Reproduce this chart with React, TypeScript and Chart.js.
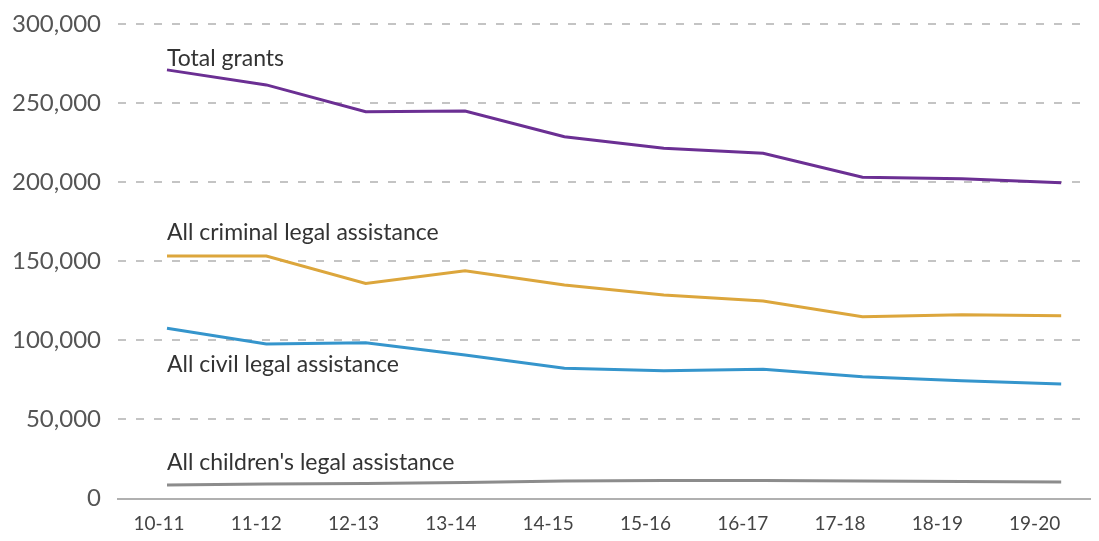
import React, { useEffect, useRef } from "react";
import { Chart, registerables } from "chart.js";

Chart.register(...registerables);

const categories = ["10-11", "11-12", "12-13", "13-14", "14-15", "15-16", "16-17", "17-18", "18-19", "19-20"];
const totalGrants = [271000, 261500, 244500, 245000, 228700, 221400, 218300, 203100, 202200, 199700];
const criminal = [153300, 153300, 136000, 144000, 135000, 128700, 124900, 114900, 116200, 115600];
const civil = [107600, 97700, 98500, 90700, 82300, 80800, 81700, 77000, 74500, 72400];
const children = [8500, 9200, 9500, 10100, 11100, 11400, 11400, 11100, 10700, 10400];
const seriesNames = ["Total grants", "All criminal legal assistance", "All civil legal assistance", "All children's legal assistance"];
const yTicks = [0, 50000, 100000, 150000, 200000, 250000, 300000];

const FONT = "Lato, 'Open Sans', sans-serif";

export default function App() {
  const ref = useRef<HTMLCanvasElement>(null);
  useEffect(() => {
    if (!ref.current) return;
    const seriesData = [totalGrants, criminal, civil, children];
    const colors = ["#6b2f93", "#dca63c", "#3595cc", "#8c8c8c"];
    const labelOffsets = [-11, -23, 36, -22];

    const labelPlugin = {
      id: "lineLabels",
      afterDatasetsDraw(chart: any) {
        const { ctx, scales } = chart;
        ctx.save();
        ctx.font = `23px ${FONT}`;
        ctx.fillStyle = "#333";
        ctx.textAlign = "left";
        ctx.textBaseline = "middle";
        seriesNames.forEach((name, i) => {
          const x = scales.x.getPixelForValue(0);
          const y = scales.y.getPixelForValue(seriesData[i][0]) + labelOffsets[i];
          ctx.fillText(name, x, y);
        });
        ctx.restore();
      },
    };

    const chart = new Chart(ref.current, {
      type: "line",
      data: {
        datasets: seriesData.map((arr, i) => ({
          label: seriesNames[i],
          data: arr.map((v, j) => ({ x: j, y: v })),
          borderColor: colors[i],
          backgroundColor: colors[i],
          borderWidth: 3,
          pointRadius: 0,
          tension: 0,
          fill: false,
        })),
      },
      options: {
        animation: false,
        responsive: true,
        maintainAspectRatio: false,
        layout: { padding: { left: 0, right: 1, top: 16, bottom: 0 } },
        plugins: { legend: { display: false }, tooltip: { enabled: false } },
        scales: {
          x: {
            type: "linear",
            display: false,
            min: -0.493,
            max: 9.29,
          },
          xl: {
            type: "linear",
            position: "bottom",
            min: -0.421,
            max: 9.569,
            afterBuildTicks: (s: any) => {
              s.ticks = categories.map((_, i) => ({ value: i }));
            },
            afterFit: (s: any) => {
              s.height = 34.5;
              s.paddingLeft = 0;
              s.paddingRight = 0;
            },
            ticks: {
              callback: (v: any) => categories[v as number] ?? "",
              font: { family: FONT, size: 19 },
              color: "#444",
              padding: 14,
              maxRotation: 0,
              autoSkip: false,
            },
            grid: { display: false, drawTicks: false },
            border: { display: true, color: "#b0b0b0", width: 2 },
          },
          y: {
            min: 0,
            max: 300000,
            afterBuildTicks: (s: any) => {
              s.ticks = yTicks.map((v) => ({ value: v }));
            },
            afterFit: (s: any) => {
              s.width = 110;
              s.paddingTop = 0;
              s.paddingBottom = 0;
            },
            ticks: {
              callback: (v: any) => Number(v).toLocaleString("en-US"),
              font: { family: FONT, size: 24 },
              color: "#555",
              padding: 17,
            },
            grid: {
              drawTicks: false,
              color: (c: any) => (c.tick && c.tick.value === 0 ? "rgba(0,0,0,0)" : "#c4c4c4"),
              lineWidth: 2,
            },
            border: { display: false, dash: [8, 10] },
          },
        },
      },
      plugins: [labelPlugin],
    });
    return () => chart.destroy();
  }, []);

  return (
    <div style={{ width: 1083, height: 525, position: "relative" }}>
      <canvas ref={ref} />
    </div>
  );
}
